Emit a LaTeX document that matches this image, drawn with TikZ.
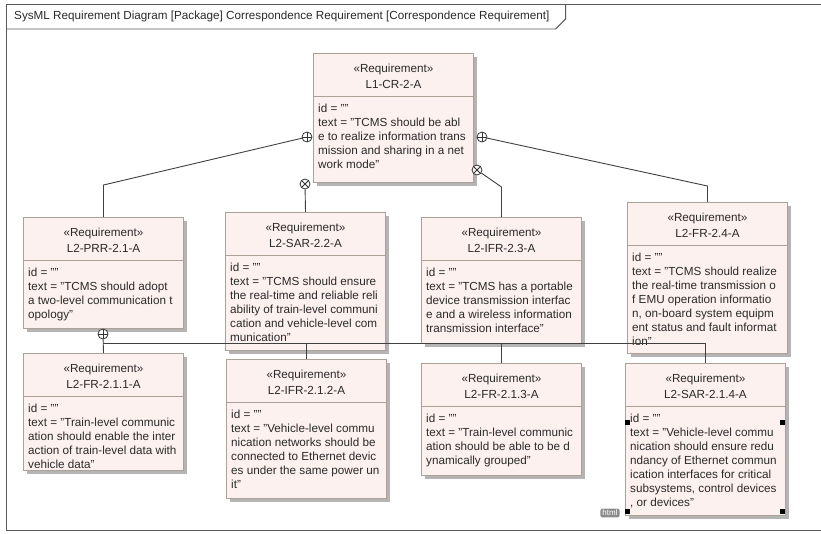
\documentclass[tikz,border=0pt]{standalone}
\usepackage{fontspec}
\setmainfont{Liberation Sans}
\usepackage{tikz}
\usetikzlibrary{
  calc,      % Coordinate math
  shadows    % Drop shadows under the requirement boxes
}

\definecolor{reqfill}{HTML}{FDF1EF}
\definecolor{reqedge}{HTML}{ADA096}
\definecolor{inkgray}{HTML}{2A2A2A}

\tikzset{
  reqbox/.style={draw=reqedge, fill=reqfill, line width=1pt,
    minimum width=160pt, inner sep=0pt,
    drop shadow={shadow xshift=3pt, shadow yshift=-3pt, fill=black!45, opacity=0.65}},
  reqline/.style={draw=reqedge, line width=0.8pt},
  reqhead/.style={align=center, text=inkgray, inner sep=0pt,
    font=\fontsize{11.7}{16}\selectfont},
  reqbody/.style={anchor=north west, align=left, text=inkgray,
    inner xsep=5pt, inner ysep=8pt, font=\fontsize{11.7}{14}\selectfont},
  frameline/.style={draw=black!65, line width=0.9pt},
  conn/.style={draw=black!75, line width=0.9pt},
  pluscirc/.style={circle, draw=black!80, fill=white, line width=0.8pt,
    minimum size=10pt, inner sep=0pt,
    path picture={\draw[black!80, line width=0.8pt]
      (path picture bounding box.north) -- (path picture bounding box.south)
      (path picture bounding box.west) -- (path picture bounding box.east);}},
  crosscirc/.style={circle, draw=black!80, fill=white, line width=0.8pt,
    minimum size=10pt, inner sep=0pt,
    path picture={\draw[black!80, line width=0.8pt]
      (path picture bounding box.north west) -- (path picture bounding box.south east)
      (path picture bounding box.south west) -- (path picture bounding box.north east);}},
  handle/.style={fill=black}
}

% #1 node name, #2 top left corner, #3 height, #4 requirement name, #5 text
\newcommand{\requirement}[5]{%
  \node[reqbox, minimum height=#3, anchor=north west] (#1) at (#2) {};
  \draw[reqline] ([yshift=-43pt]#1.north west) -- ([yshift=-43pt]#1.north east);
  \node[reqhead] (#1-head) at ([yshift=-23pt]#1.north) {«Requirement»\\#4};
  \node[reqbody] (#1-body) at ([yshift=-43pt]#1.north west) {id = ""\\text = #5};
}

\begin{document}
\begin{tikzpicture}[x=1pt, y=-1pt]
  \useasboundingbox (0,0) rectangle (821,533);

  % Diagram frame with its name tab
  \draw[frameline] (830,4) -- (6,4) -- (6,530) -- (830,530);
  \node[anchor=west, text=inkgray, inner sep=0pt, font=\fontsize{11.7}{14}\selectfont]
    (title) at (14,16) {SysML Requirement Diagram [Package] Correspondence Requirement [Correspondence Requirement]};
  \coordinate (tabend) at ([xshift=6pt]title.east);
  \draw[frameline] (6,29) -- (tabend |- 0,29) -- ++(10,-10) -- ++(0,-15);

  % Top level requirement
  \requirement{l1}{313,53}{129pt}{L1-CR-2-A}{"TCMS should be abl\\e to realize information trans\\mission and sharing in a net\\work mode"}

  % Second row
  \requirement{prr}{23,217}{111pt}{L2-PRR-2.1-A}{"TCMS should adopt\\a two-level communication t\\opology"}
  \requirement{sar}{225,212}{138pt}{L2-SAR-2.2-A}{"TCMS should ensure\\the real-time and reliable reli\\ability of train-level communi\\cation and vehicle-level com\\munication"}
  \requirement{ifr}{421,217}{126pt}{L2-IFR-2.3-A}{"TCMS has a portable\\device transmission interfac\\e and a wireless information\\transmission interface"}
  \requirement{fr24}{627,202}{151pt}{L2-FR-2.4-A}{"TCMS should realize\\the real-time transmission o\\f EMU operation informatio\\n, on-board system equipm\\ent status and fault informat\\ion"}

  % Third row
  \requirement{fr211}{23,353}{117pt}{L2-FR-2.1.1-A}{"Train-level communic\\ation should enable the inter\\action of train-level data with\\vehicle data"}
  \requirement{ifr212}{226,359}{139pt}{L2-IFR-2.1.2-A}{"Vehicle-level commu\\nication networks should be\\connected to Ethernet devic\\es under the same power un\\it"}
  \requirement{fr213}{421,363}{112pt}{L2-FR-2.1.3-A}{"Train-level communic\\ation should be able to be d\\ynamically grouped"}
  \requirement{sar214}{625,363}{152pt}{L2-SAR-2.1.4-A}{"Vehicle-level commu\\nication should ensure redu\\ndancy of Ethernet commun\\ication interfaces for critical\\subsystems, control devices\\, or devices"}

  % Containment and derive ends on the top box
  \node[pluscirc] (p1) at (307,137) {};
  \node[crosscirc] (x1) at (305,184) {};
  \node[pluscirc] (p2) at (482,137) {};
  \node[crosscirc] (x2) at (477,170) {};
  \node[pluscirc] (p3) at (103,334) {};

  \draw[conn] (p1) -- ([yshift=32pt]prr.north) -- (prr.north);
  \draw[conn] (x1) -- (sar.north);
  \draw[conn] (p2) -- ([yshift=16pt]fr24.north) -- (fr24.north);
  \draw[conn] (x2) -- ([yshift=30pt]ifr.north) -- (ifr.north);

  % Bus under L2-PRR-2.1-A
  \coordinate (bus) at (103,343);
  \draw[conn] (p3) -- (fr211.north);
  \draw[conn] (bus) -| (sar214.north);
  \draw[conn] (ifr212.north) -- (ifr212.north |- bus);
  \draw[conn] (fr213.north) -- (fr213.north |- bus);

  % Selection handles and tag
  \fill[handle] (624.5,419.5) rectangle ++(5,5);
  \fill[handle] (779.5,419.5) rectangle ++(5,5);
  \fill[handle] (624.5,508.5) rectangle ++(5,5);
  \fill[handle] (779.5,508.5) rectangle ++(5,5);
  \node[fill=black!45, rounded corners=2pt, text=white, inner xsep=2pt, inner ysep=1.5pt,
    font=\fontsize{8}{8}\selectfont] (htmltag) at (610,513) {html};
\end{tikzpicture}
\end{document}
